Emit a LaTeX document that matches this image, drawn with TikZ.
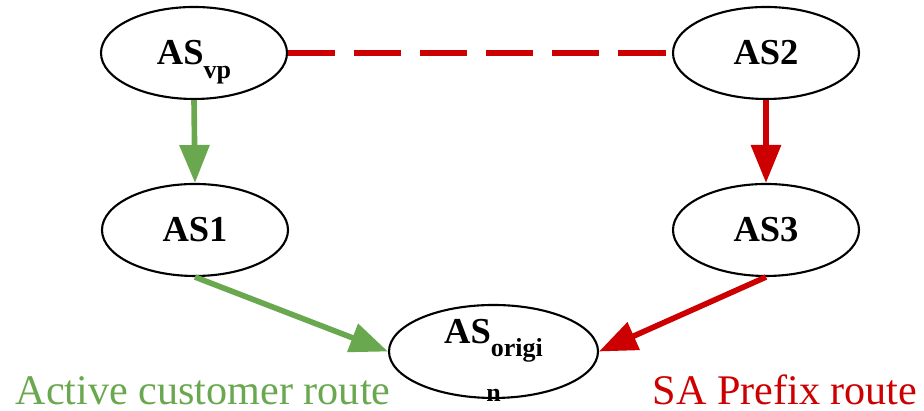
\documentclass[tikz,border=0pt]{standalone}
\usepackage{fontspec}
\setmainfont{Liberation Serif}
\usetikzlibrary{shapes.geometric,arrows.meta}
\definecolor{routegreen}{RGB}{106,168,79}
\definecolor{routered}{RGB}{204,0,0}
\newcommand{\assub}[1]{\raisebox{-0.36em}[0pt][0pt]{\fontsize{7.4}{8}\selectfont #1}}
\newcommand{\aslow}[1]{\raisebox{-14.2pt}[0pt][0pt]{#1}}

\begin{document}
\begin{tikzpicture}[
  asnode/.style={ellipse,draw,line width=0.6pt,minimum width=1.86cm,minimum height=0.92cm,inner sep=0pt,font=\fontsize{10.4}{12.5}\selectfont\bfseries},
  route/.style={line width=1.6pt,-{Triangle[length=10.8pt,width=8.3pt]}},
  routelabel/.style={inner sep=0pt,font=\fontsize{12}{14}\selectfont}]
\useasboundingbox (0,0) rectangle (9.24,4.11);
\node[asnode] (asvp) at (1.94,3.58) {AS\assub{vp}};
\node[asnode] (as2) at (7.66,3.58) {AS2};
\node[asnode] (as1) at (1.95,1.81) {AS1};
\node[asnode] (as3) at (7.66,1.81) {AS3};
\node[asnode,minimum width=2.09cm,minimum height=0.93cm,align=center,text height=0pt,text depth=0pt] (orig) at (4.935,0.595)
  {\aslow{AS\assub{origi}}\\[4pt]\aslow{\fontsize{7.4}{8}\selectfont n}};
% routes
\draw[routered,line width=1.6pt,dash pattern=on 13.4pt off 5.4pt] (asvp.east) -- (as2.west);
\draw[route,routegreen] (asvp.south) -- (as1.north);
\draw[route,routegreen] (as1.south) -- (orig.west);
\draw[route,routered] (as2.south) -- (as3.north);
\draw[route,routered] (as3.south) -- (orig.east);
\node[routelabel,anchor=base west,text=routegreen] (actlabel) at (0.15,0.06) {Active customer route};
\node[routelabel,anchor=base east,text=routered] (salabel) at (9.18,0.06) {SA Prefix route};
\end{tikzpicture}
\end{document}
